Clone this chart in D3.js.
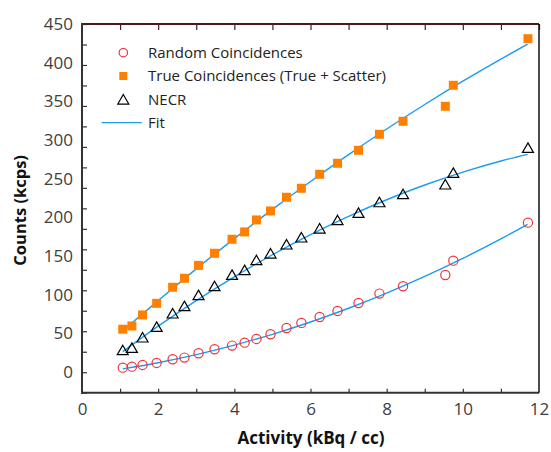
<!DOCTYPE html>
<html>
<head>
<meta charset="utf-8">
<script src="https://cdn.jsdelivr.net/npm/d3@7"></script>
<style>
  html, body { margin: 0; padding: 0; background: #fff; }
  svg { display: block; }
  text { font-family: "Open Sans", "Noto Sans", sans-serif; }
</style>
</head>
<body>
<svg id="chart" width="551" height="452"></svg>
<script>
// ---- data ----
const activity = [1.07, 1.31, 1.59, 1.96, 2.38, 2.69, 3.06, 3.48, 3.94, 4.27, 4.58, 4.95, 5.37, 5.76, 6.24, 6.71, 7.26, 7.81, 8.43, 9.54, 9.75, 11.71];
const trueCounts = [55.6, 59.8, 74, 89, 109.8, 121.4, 138, 153.7, 171.8, 181.3, 196.8, 208.4, 226.1, 237.7, 255.8, 270, 286.8, 307.5, 324.3, 343.7, 370.8, 431];
const necrCounts = [28.8, 31.8, 45.2, 58.9, 76.2, 85.7, 99.9, 111.5, 126.1, 132.2, 145.1, 153.7, 165.4, 174.4, 186, 196.8, 206.2, 220, 230.4, 242.9, 257.9, 290.2];
const randomCounts = [5.9, 7.2, 9.4, 12, 16.8, 18.9, 24.5, 29.7, 34.4, 38.2, 43, 49.1, 57.2, 63.7, 71.4, 79.2, 89.5, 101.6, 111.1, 125.7, 144.2, 193.3];

const fitX = [1.07, 2, 3, 4, 5, 6, 7, 8, 9, 10, 11, 11.7];
const fitTrue = [53.7, 92.5, 133.6, 172.7, 210.4, 246.5, 281.2, 314.3, 346, 376.1, 404.7, 424];
const fitNecr = [26.6, 59.5, 92.6, 123.3, 151.8, 177.8, 201.5, 222.9, 241.9, 258.6, 273, 281.6];
const fitRandom = [4.3, 12.3, 22.7, 35, 49, 64.9, 82.7, 102.3, 123.8, 147.1, 172.3, 191];

const xTickLabels = [0, 2, 4, 6, 8, 10, 12];
const xTickMarks = [1, 2, 3, 4, 5, 6, 7, 8, 9, 10, 11];
const yTickLabels = [0, 50, 100, 150, 200, 250, 300, 350, 400, 450];
const yTickStep = 450 / 17;       // tick-mark spacing as drawn in the original
const yTickMarks = d3.range(-1, 18).map(k => k * yTickStep);

const legendItems = ["Random Coincidences", "True Coincidences (True + Scatter)", "NECR", "Fit"];

// ---- layout ----
const L = 82, R = 539, T = 24, B = 392.7;
const svg = d3.select("#chart");
const x = d3.scaleLinear().domain([0, 12]).range([L, R]);
const y = d3.scaleLinear().domain([-yTickStep, 450]).range([B, T]);

const blue = "#1a9cf0", orange = "#ff8000", red = "#f0323c";

// ---- fits ----
const line = d3.line().x(d => x(d[0])).y(d => y(d[1])).curve(d3.curveMonotoneX);
[fitTrue, fitNecr, fitRandom].forEach(f => {
  svg.append("path")
    .datum(fitX.map((v, i) => [v, f[i]]))
    .attr("d", line)
    .attr("fill", "none")
    .attr("stroke", blue)
    .attr("stroke-width", 1.4);
});

// ---- markers ----
const tri = (w, h) => `M0,${-h/2}L${w/2},${h/2}L${-w/2},${h/2}Z`;
svg.append("g").selectAll("rect").data(activity).join("rect")
  .attr("x", (d) => x(d) - 4.5)
  .attr("y", (d, i) => y(trueCounts[i]) - 4.5)
  .attr("width", 9).attr("height", 9)
  .attr("fill", orange);
svg.append("g").selectAll("path").data(activity).join("path")
  .attr("transform", (d, i) => `translate(${x(d)},${y(necrCounts[i])})`)
  .attr("d", tri(11, 9.5))
  .attr("fill", "none").attr("stroke", "#000").attr("stroke-width", 1.2);
svg.append("g").selectAll("circle").data(activity).join("circle")
  .attr("cx", d => x(d))
  .attr("cy", (d, i) => y(randomCounts[i]))
  .attr("r", 4.6)
  .attr("fill", "none").attr("stroke", red).attr("stroke-width", 1.2);

// ---- axes ----
const gx = svg.append("g").attr("transform", `translate(0,${B})`)
  .call(d3.axisBottom(x).tickValues(xTickMarks).tickSize(-4).tickFormat(""));
gx.select(".domain").remove();
gx.selectAll("line").attr("stroke", "#333").attr("stroke-width", 1.2);

const gxl = svg.append("g").attr("transform", `translate(0,${B})`)
  .call(d3.axisBottom(x).tickValues(xTickLabels).tickSize(0).tickPadding(8));
gxl.select(".domain").remove();
gxl.selectAll("text").attr("font-size", 17).attr("fill", "#404040").attr("dy", "0.85em");

const gt = svg.append("g").attr("transform", `translate(0,${T})`)
  .call(d3.axisTop(x).tickValues(xTickMarks.concat([12])).tickSize(-6).tickFormat(""));
gt.select(".domain").remove();
gt.selectAll("line").attr("stroke", "#4a1c1c").attr("stroke-width", 1.2);

const gy = svg.append("g").attr("transform", `translate(${L},0)`)
  .call(d3.axisLeft(y).tickValues(yTickMarks).tickSize(-5).tickFormat(""));
gy.select(".domain").remove();
gy.selectAll("line").attr("stroke", "#333").attr("stroke-width", 1.2);

const gyl = svg.append("g").attr("transform", `translate(${L},0)`)
  .call(d3.axisLeft(y).tickValues(yTickLabels).tickSize(0).tickPadding(9));
gyl.select(".domain").remove();
gyl.selectAll("text").attr("font-size", 17).attr("fill", "#404040");

// frame
svg.append("line").attr("x1", L).attr("x2", R).attr("y1", T).attr("y2", T)
  .attr("stroke", "#4a1c1c").attr("stroke-width", 2);
svg.append("line").attr("x1", L).attr("x2", L).attr("y1", T - 1).attr("y2", B + 1)
  .attr("stroke", "#333").attr("stroke-width", 2);
svg.append("line").attr("x1", L - 1).attr("x2", R).attr("y1", B).attr("y2", B)
  .attr("stroke", "#333").attr("stroke-width", 2);
svg.append("line").attr("x1", R).attr("x2", R).attr("y1", T).attr("y2", B)
  .attr("stroke", "#111").attr("stroke-width", 1.5);

// ---- titles ----
svg.append("text")
  .attr("x", 311).attr("y", 444)
  .attr("text-anchor", "middle").attr("font-size", 17).attr("font-weight", "bold").attr("fill", "#111")
  .text("Activity (kBq / cc)");
svg.append("text")
  .attr("transform", `translate(26,${(T + B) / 2 + 2}) rotate(-90)`)
  .attr("text-anchor", "middle").attr("font-size", 16.5).attr("font-weight", "bold").attr("fill", "#111")
  .text("Counts (kcps)");

// ---- legend ----
const lg = svg.append("g");
const lx = 123.3, ly0 = 52.7, dy = 23.3, tx = 148;
legendItems.forEach((name, i) => {
  const cy = ly0 + i * dy;
  if (i === 0) lg.append("circle").attr("cx", lx).attr("cy", cy).attr("r", 4.2)
      .attr("fill", "none").attr("stroke", red).attr("stroke-width", 1.2);
  if (i === 1) lg.append("rect").attr("x", lx - 4).attr("y", cy - 4).attr("width", 8).attr("height", 8)
      .attr("fill", orange);
  if (i === 2) lg.append("path").attr("transform", `translate(${lx},${cy})`).attr("d", tri(11, 9.5))
      .attr("fill", "none").attr("stroke", "#000").attr("stroke-width", 1.2);
  if (i === 3) lg.append("line").attr("x1", 101.7).attr("x2", 141.7).attr("y1", cy).attr("y2", cy)
      .attr("stroke", blue).attr("stroke-width", 1.4);
  lg.append("text").attr("x", tx).attr("y", cy).attr("dy", "0.35em")
    .attr("font-size", 15).attr("fill", "#222").text(name);
});
</script>
</body>
</html>
